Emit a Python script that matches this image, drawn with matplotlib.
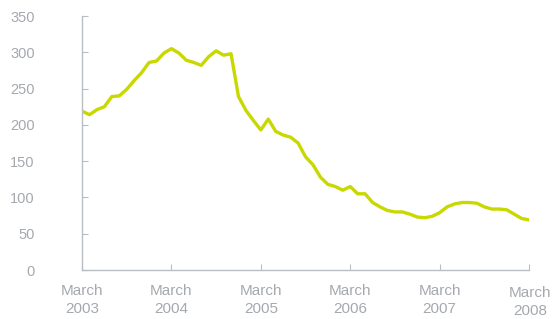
import numpy as np
import matplotlib.pyplot as plt
import matplotlib.transforms as mtransforms

# Monthly values, March 2003 .. March 2008
values = [219, 214, 221, 225, 239, 240, 249, 261, 272, 286, 288, 299,
          305, 299, 289, 286, 282, 294, 302, 296, 298, 239, 220, 206,
          193, 208, 191, 186, 183, 175, 156, 145, 128, 118, 115, 110,
          115, 105, 105, 93, 87, 82, 80, 80, 77, 73, 72, 74,
          79, 87, 91, 93, 93, 92, 87, 84, 84, 83, 77, 71, 69]
months = np.arange(len(values))

tick_labels = ['March\n2003', 'March\n2004', 'March\n2005',
               'March\n2006', 'March\n2007', 'March\n2008']
y_ticks = [0, 50, 100, 150, 200, 250, 300, 350]

plt.rcParams['font.family'] = ['Liberation Sans', 'DejaVu Sans']

fig = plt.figure(figsize=(5.52, 3.19), dpi=100)
ax = fig.add_axes([0.1486, 0.1536, 0.8098, 0.7962])

ax.plot(months, values, color='#c8d800', linewidth=2.4,
        solid_joinstyle='round', solid_capstyle='round')

ax.set_xlim(0, 60)
ax.set_ylim(0, 350)
ax.set_xticks(np.arange(0, 61, 12))
ax.set_xticklabels(tick_labels, linespacing=1.35)
ax.set_yticks(y_ticks)

axis_col = '#b9bec4'
for side in ['top', 'right']:
    ax.spines[side].set_visible(False)
for side in ['left', 'bottom']:
    ax.spines[side].set_color(axis_col)
    ax.spines[side].set_linewidth(1.0)

label_col = '#a5a9ae'
ax.tick_params(axis='x', direction='in', length=4, color=axis_col,
               labelsize=11, labelcolor=label_col, pad=10)
ax.tick_params(axis='y', direction='in', length=4, color=axis_col,
               labelsize=10.5, labelcolor=label_col, pad=34)

# last label sits a little lower in the original
last = ax.get_xticklabels()[-1]
last.set_transform(last.get_transform() +
                   mtransforms.ScaledTranslation(1 / 100, -2 / 100, fig.dpi_scale_trans))

fig.savefig('out.png', dpi=100, facecolor='white')
